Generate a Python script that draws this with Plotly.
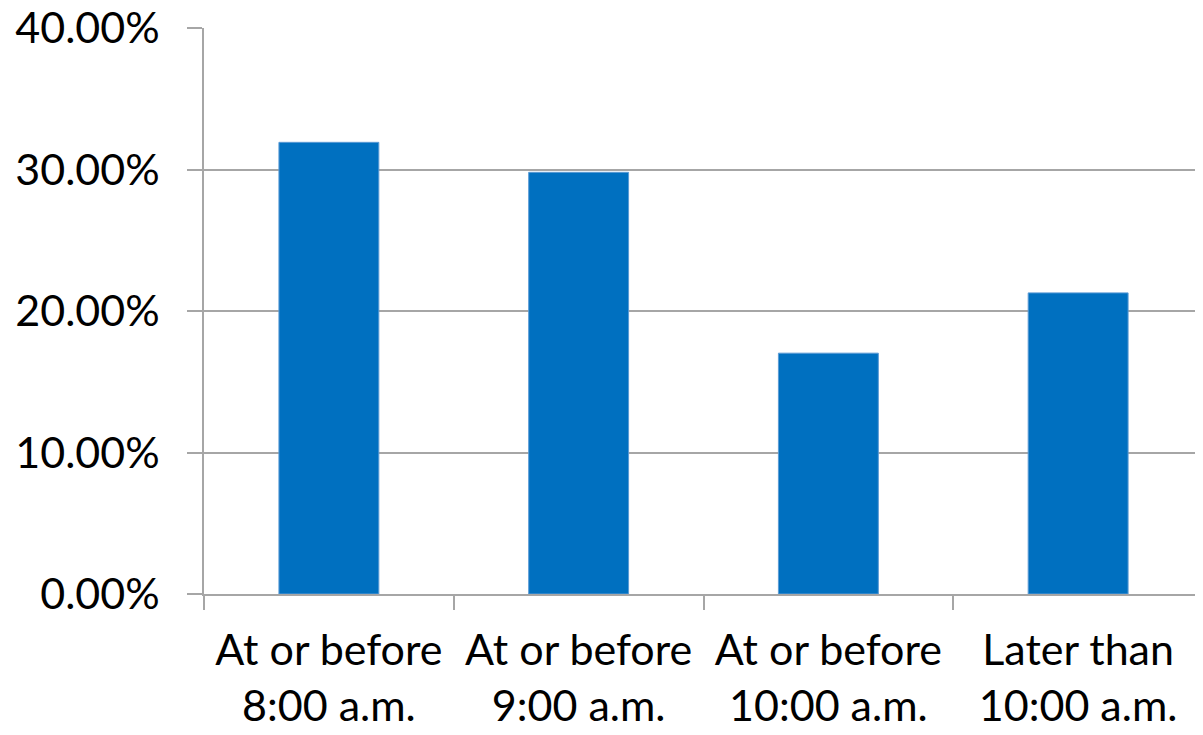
import plotly.graph_objects as go

categories = ["At or before<br>8:00 a.m.", "At or before<br>9:00 a.m.", "At or before<br>10:00 a.m.", "Later than<br>10:00 a.m."]
values = [0.3192, 0.2980, 0.1702, 0.2128]
y_ticks = [0, 0.1, 0.2, 0.3, 0.4]

fig = go.Figure(go.Bar(
    x=categories, y=values, width=0.4,
    marker=dict(color="#0070C0", line=dict(color="#5B9BD5", width=1)),
))

grid = "#A6A6A6"
fig.update_layout(
    width=1203, height=735,
    margin=dict(l=196, r=8, t=20, b=149),
    paper_bgcolor="white", plot_bgcolor="white",
    font=dict(family="Lato, Open Sans, sans-serif", size=43, color="black"),
    showlegend=False,
)
fig.update_yaxes(
    range=[0, 0.4], tickvals=y_ticks, tickformat=".2%",
    showgrid=True, gridcolor=grid, gridwidth=1.5,
    showline=True, linecolor=grid, linewidth=1.5,
    ticks="outside", ticklen=15, tickcolor=grid, tickwidth=1.5,
    ticklabelstandoff=19, zeroline=False, automargin=False,
    ticklabeloverflow="allow",
)
fig.update_xaxes(
    showline=True, linecolor=grid, linewidth=1.5,
    ticks="outside", tickson="boundaries", ticklen=14, tickcolor=grid, tickwidth=1.5,
    ticklabelstandoff=18, automargin=False, ticklabeloverflow="allow",
)
fig.write_html("out.html")
